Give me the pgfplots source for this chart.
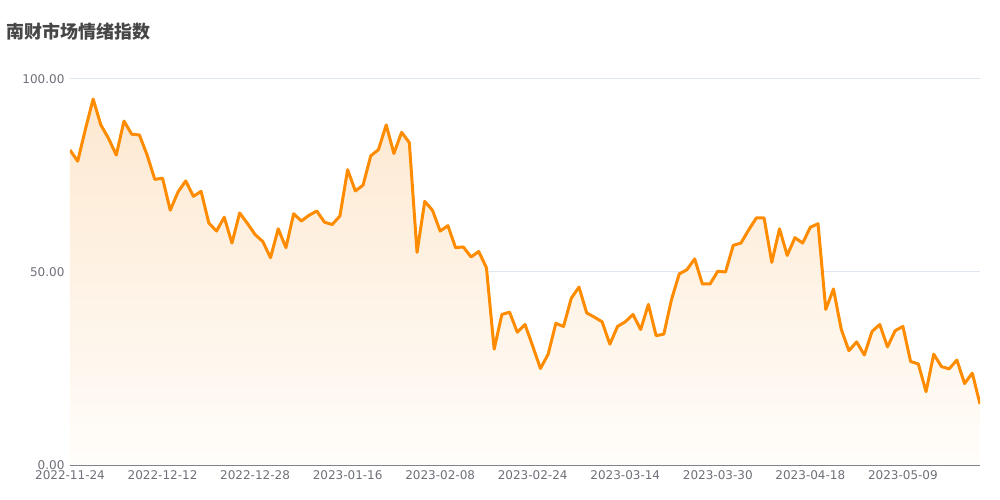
\documentclass[border=0pt]{standalone}
\usepackage{fontspec}
\setmainfont{DejaVu Sans}
\newfontfamily\cjk{Noto Sans CJK SC}
\usepackage{pgfplots}
\usepackage{pgfplotstable}
\pgfplotsset{compat=1.18}

\definecolor{lineorange}{RGB}{255,140,0}
\definecolor{fillTop}{RGB}{253,232,208}
\definecolor{fillBot}{RGB}{255,253,250}
\definecolor{gridc}{RGB}{224,230,241}
\definecolor{axisc}{RGB}{110,112,121}
\definecolor{titlec}{RGB}{70,70,70}

% index = trading day from 2022-11-24
\pgfplotstableread{
i v
0 81.6
1 78.7
2 87.0
3 94.8
4 88.1
5 84.6
6 80.3
7 89.1
8 85.7
9 85.5
10 80.3
11 74.0
12 74.3
13 66.0
14 70.7
15 73.6
16 69.6
17 70.9
18 62.7
19 60.6
20 64.2
21 57.5
22 65.3
23 62.6
24 59.7
25 57.9
26 53.7
27 61.2
28 56.3
29 65.1
30 63.2
31 64.7
32 65.8
33 62.9
34 62.3
35 64.5
36 76.5
37 71.0
38 72.5
39 80.1
40 81.7
41 88.1
42 80.7
43 86.2
44 83.5
45 55.1
46 68.3
47 66.0
48 60.6
49 62.0
50 56.3
51 56.5
52 53.9
53 55.3
54 51.1
55 30.0
56 39.0
57 39.6
58 34.4
59 36.4
60 30.8
61 25.0
62 28.7
63 36.7
64 35.9
65 43.2
66 46.1
67 39.4
68 38.3
69 37.1
70 31.3
71 35.9
72 37.1
73 39.0
74 35.1
75 41.6
76 33.5
77 33.9
78 42.9
79 49.5
80 50.6
81 53.4
82 46.9
83 46.9
84 50.2
85 50.0
86 56.9
87 57.5
88 60.9
89 64.0
90 64.0
91 52.5
92 61.2
93 54.3
94 58.9
95 57.5
96 61.6
97 62.5
98 40.3
99 45.6
100 35.2
101 29.6
102 31.9
103 28.5
104 34.6
105 36.4
106 30.6
107 34.8
108 35.9
109 26.8
110 26.2
111 19.0
112 28.7
113 25.5
114 24.9
115 27.2
116 21.1
117 23.8
118 15.8
}\sentiment

\begin{document}
\begin{tikzpicture}
\begin{axis}[
    scale only axis,
    width=910pt, height=386pt,
    xmin=0, xmax=118,
    ymin=0, ymax=100,
    axis x line*=bottom,
    axis y line*=left,
    x axis line style={draw=axisc, line width=1pt, -},
    y axis line style={draw=none},
    major tick length=0pt,
    ytick={0,50,100},
    yticklabels={0.00,50.00,100.00},
    xtick={0,12,...,108},
    xticklabels={2022-11-24,2022-12-12,2022-12-28,2023-01-16,2023-02-08,2023-02-24,2023-03-14,2023-03-30,2023-04-18,2023-05-09},
    ymajorgrids=true,
    grid style={draw=gridc, line width=1pt},
    tick label style={font=\fontsize{12}{14}\selectfont, text=axisc},
    yticklabel style={xshift=-2pt},
    xticklabel style={yshift=-2pt},
]
\addplot[draw=none, top color=fillTop, bottom color=fillBot] table[x=i, y=v] {\sentiment} \closedcycle;
\addplot[draw=lineorange, line width=3pt, line join=round, no marks] table[x=i, y=v] {\sentiment};
\end{axis}
\node[anchor=west, text=titlec, font=\cjk\bfseries\fontsize{18}{20}\selectfont, inner sep=0pt] at (-64pt,433pt) {南财市场情绪指数};
\pgfresetboundingbox
\path[use as bounding box] (-70pt,-35pt) rectangle (930pt,465pt);
\end{tikzpicture}
\end{document}
